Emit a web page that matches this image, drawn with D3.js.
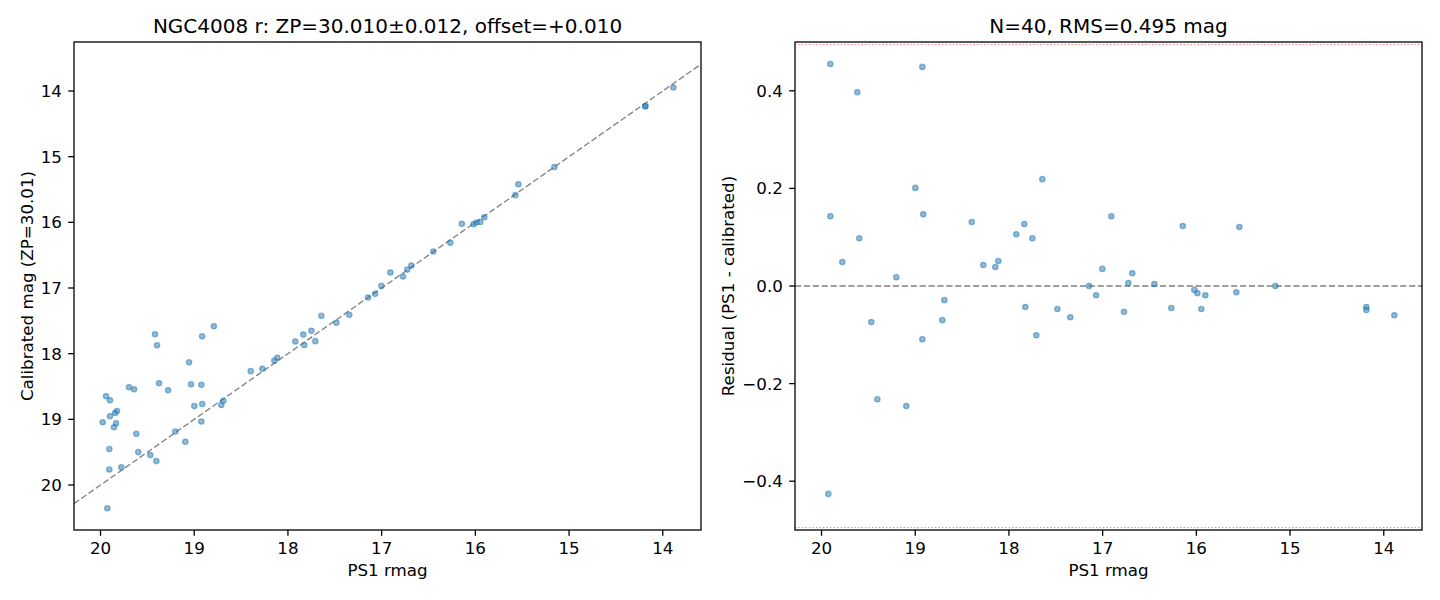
<!DOCTYPE html>
<html lang="en">
  <head>
    <meta charset="UTF-8" />
    <title>NGC4008 r calibration</title>
    <script src="https://d3js.org/d3.v7.min.js"></script>
    <style>
      body {
        margin: 0;
        background: #fff;
      }
      svg text {
        font-family: "DejaVu Sans", sans-serif;
        fill: #000;
      }
      .frame {
        fill: none;
        stroke: #000;
        stroke-width: 1.3px;
      }
      .tick line {
        stroke: #000;
        stroke-width: 1.3px;
      }
      .dot {
        fill: #1f77b4;
        fill-opacity: 0.5;
        stroke: #1f77b4;
        stroke-opacity: 0.5;
        stroke-width: 1.2px;
      }
    </style>
  </head>
  <body>
    <svg width="1440" height="600"></svg>
    <script>
      // PS1 r magnitudes and calibrated magnitudes
      const ps1Mag = [
        19.906, 18.924, 19.618, 17.643, 18.999, 19.906, 18.914, 18.397,
        17.836, 17.921, 17.750, 19.597, 19.778, 18.273, 18.145, 18.113,
        19.202, 17.145, 17.070, 18.689, 19.469, 18.711, 17.825, 17.483,
        17.345, 18.924, 17.708, 19.404, 19.095, 19.927, 16.907, 16.145,
        15.541, 17.003, 16.683, 16.726, 16.448, 16.772, 16.267, 16.021,
        15.989, 15.904, 15.947, 15.573, 15.157, 14.186, 14.186, 13.887,
        // outliers (off the residual panel)
        18.791, 19.418, 18.916, 19.397, 19.055, 19.696, 19.642, 19.375,
        19.279, 19.034, 19.941, 19.899, 19.824, 19.845, 19.899, 19.977,
        19.834, 19.856,
      ];
      const calMag = [
        19.451, 18.475, 19.221, 17.424, 18.798, 19.763, 18.767, 18.266,
        17.709, 17.815, 17.652, 19.499, 19.729, 18.23, 18.106, 18.062,
        19.184, 17.145, 17.089, 18.718, 19.543, 18.781, 17.868, 17.53,
        17.409, 19.033, 17.809, 19.636, 19.341, 20.353, 16.764, 16.022,
        15.42, 16.968, 16.657, 16.72, 16.444, 16.825, 16.312, 16.029,
        16.004, 15.923, 15.994, 15.586, 15.157, 14.229, 14.235, 13.947,
        17.583, 17.705, 17.736, 17.873, 18.132, 18.512, 18.543, 18.451,
        18.558, 18.467, 18.649, 18.71, 18.873, 18.904, 18.954, 19.045,
        19.06, 19.121,
      ];

      const magTicks = [20, 19, 18, 17, 16, 15, 14];
      const calTicks = [14, 15, 16, 17, 18, 19, 20];
      const residTicks = [0.4, 0.2, 0.0, -0.2, -0.4];
      const rms = 0.495;

      const leftTitle = "NGC4008 r: ZP=30.010\u00b10.012, offset=+0.010";
      const rightTitle = "N=40, RMS=0.495 mag";

      const points = ps1Mag.map((m, i) => ({
        ps1: m,
        cal: calMag[i],
        resid: m - calMag[i],
      }));

      const svg = d3.select("svg");
      const axTop = 42,
        axBottom = 530,
        panelW = 627;
      const fs = 16.7;
      const tickLen = 5.8;

      const xLeft = d3.scaleLinear().domain([20.283, 13.592]).range([74, 74 + panelW]);
      const xRight = d3.scaleLinear().domain([20.283, 13.592]).range([795, 795 + panelW]);
      const yCal = d3.scaleLinear().domain([13.254, 20.685]).range([axTop, axBottom]);
      const yRes = d3.scaleLinear().domain([0.5, -0.5]).range([axTop, axBottom]);

      function drawAxes(g, x, y, yTickVals, yFmt) {
        const x0 = x.range()[0],
          x1 = x.range()[1];
        // x ticks
        const xt = g.append("g");
        magTicks.forEach((t) => {
          const tg = xt.append("g").attr("class", "tick");
          tg.append("line")
            .attr("x1", x(t))
            .attr("x2", x(t))
            .attr("y1", axBottom)
            .attr("y2", axBottom + tickLen);
          tg.append("text")
            .attr("x", x(t))
            .attr("y", axBottom + 23.5)
            .attr("text-anchor", "middle")
            .style("font-size", fs + "px")
            .text(t);
        });
        // y ticks
        const yt = g.append("g");
        yTickVals.forEach((t) => {
          const tg = yt.append("g").attr("class", "tick");
          tg.append("line")
            .attr("x1", x0 - tickLen)
            .attr("x2", x0)
            .attr("y1", y(t))
            .attr("y2", y(t));
          tg.append("text")
            .attr("x", x0 - 2 * tickLen - 0.5)
            .attr("y", y(t) + 6)
            .attr("text-anchor", "end")
            .style("font-size", fs + "px")
            .text(yFmt(t));
        });
        g.append("text")
          .attr("x", (x0 + x1) / 2)
          .attr("y", 576)
          .attr("text-anchor", "middle")
          .style("font-size", fs + "px")
          .text("PS1 rmag");
      }

      function frame(g, x) {
        g.append("rect")
          .attr("class", "frame")
          .attr("x", x.range()[0])
          .attr("y", axTop)
          .attr("width", panelW)
          .attr("height", axBottom - axTop);
      }

      function clip(id, x) {
        svg
          .append("clipPath")
          .attr("id", id)
          .append("rect")
          .attr("x", x.range()[0])
          .attr("y", axTop)
          .attr("width", panelW)
          .attr("height", axBottom - axTop);
      }
      clip("clipL", xLeft);
      clip("clipR", xRight);

      // ---- left panel: calibrated vs PS1
      const left = svg.append("g");
      const leftPlot = left.append("g").attr("clip-path", "url(#clipL)");
      const dom = xLeft.domain();
      leftPlot
        .append("line")
        .attr("x1", xLeft(dom[0]))
        .attr("y1", yCal(dom[0]))
        .attr("x2", xLeft(dom[1]))
        .attr("y2", yCal(dom[1]))
        .attr("stroke", "#000")
        .attr("stroke-opacity", 0.5)
        .attr("stroke-width", 1.3)
        .attr("stroke-dasharray", "6.2,2.7");
      leftPlot
        .selectAll("circle")
        .data(points)
        .enter()
        .append("circle")
        .attr("class", "dot")
        .attr("cx", (d) => xLeft(d.ps1))
        .attr("cy", (d) => yCal(d.cal))
        .attr("r", 2.7);
      frame(left, xLeft);
      drawAxes(left, xLeft, yCal, calTicks, (d) => d);
      left
        .append("text")
        .attr("x", (74 + 74 + panelW) / 2)
        .attr("y", 33)
        .attr("text-anchor", "middle")
        .style("font-size", "20px")
        .text(leftTitle);
      left
        .append("text")
        .attr("transform", `translate(33,${(axTop + axBottom) / 2}) rotate(-90)`)
        .attr("text-anchor", "middle")
        .style("font-size", fs + "px")
        .text("Calibrated mag (ZP=30.01)");

      // ---- right panel: residuals
      const right = svg.append("g");
      const rightPlot = right.append("g").attr("clip-path", "url(#clipR)");
      [rms, -rms].forEach((v) => {
        rightPlot
          .append("line")
          .attr("x1", xRight.range()[0])
          .attr("x2", xRight.range()[1])
          .attr("y1", yRes(v))
          .attr("y2", yRes(v))
          .attr("stroke", "red")
          .attr("stroke-opacity", 0.5)
          .attr("stroke-width", 1.1)
          .attr("stroke-dasharray", "1.3,2.2");
      });
      rightPlot
        .append("line")
        .attr("x1", xRight.range()[0])
        .attr("x2", xRight.range()[1])
        .attr("y1", yRes(0))
        .attr("y2", yRes(0))
        .attr("stroke", "#000")
        .attr("stroke-opacity", 0.5)
        .attr("stroke-width", 1.3)
        .attr("stroke-dasharray", "6.2,2.7");
      rightPlot
        .selectAll("circle")
        .data(points.filter((d) => Math.abs(d.resid) < 0.5))
        .enter()
        .append("circle")
        .attr("class", "dot")
        .attr("cx", (d) => xRight(d.ps1))
        .attr("cy", (d) => yRes(d.resid))
        .attr("r", 2.7);
      frame(right, xRight);
      const resFmt = (d) => (d < 0 ? "\u2212" + d3.format(".1f")(-d) : d3.format(".1f")(d));
      drawAxes(right, xRight, yRes, residTicks, resFmt);
      right
        .append("text")
        .attr("x", (795 + 795 + panelW) / 2)
        .attr("y", 33)
        .attr("text-anchor", "middle")
        .style("font-size", "20px")
        .text(rightTitle);
      right
        .append("text")
        .attr("transform", `translate(734,${(axTop + axBottom) / 2}) rotate(-90)`)
        .attr("text-anchor", "middle")
        .style("font-size", fs + "px")
        .text("Residual (PS1 - calibrated)");
    </script>
  </body>
</html>
